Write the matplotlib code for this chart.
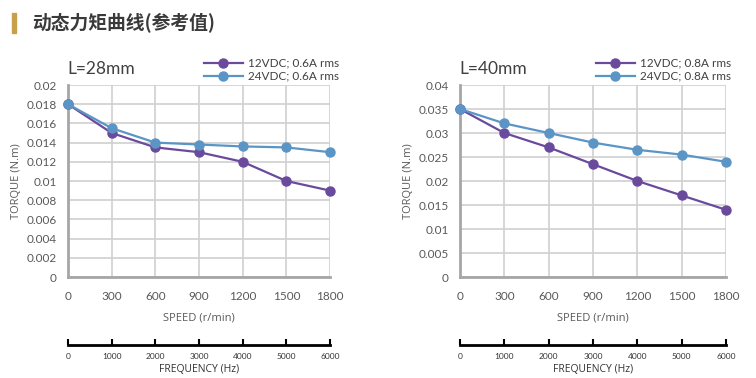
import numpy as np
import matplotlib.pyplot as plt
from matplotlib.patches import Rectangle

# 动态力矩曲线 - two motor lengths
speed = [0, 300, 600, 900, 1200, 1500, 1800]
speed_labels = ['0', '300', '600', '900', '1200', '1500', '1800']
freq = [0, 1000, 2000, 3000, 4000, 5000, 6000]

titles = ['L=28mm', 'L=40mm']
series_names = [['12VDC; 0.6A rms', '24VDC; 0.6A rms'],
                ['12VDC; 0.8A rms', '24VDC; 0.8A rms']]

torque_28_12v = [0.018, 0.015, 0.0135, 0.013, 0.012, 0.010, 0.009]
torque_28_24v = [0.018, 0.0155, 0.014, 0.0138, 0.0136, 0.0135, 0.013]
torque_40_12v = [0.035, 0.030, 0.027, 0.0235, 0.020, 0.017, 0.014]
torque_40_24v = [0.035, 0.032, 0.030, 0.028, 0.0265, 0.0255, 0.024]

y_ticks = [np.arange(0, 0.0201, 0.002), np.arange(0, 0.0401, 0.005)]
y_ticklabels = [['0', '0.002', '0.004', '0.006', '0.008', '0.01', '0.012',
                 '0.014', '0.016', '0.018', '0.02'],
                ['0', '0.005', '0.01', '0.015', '0.02', '0.025', '0.03',
                 '0.035', '0.04']]
y_max = [0.02, 0.04]

data = [(torque_28_12v, torque_28_24v), (torque_40_12v, torque_40_24v)]

purple = '#6A4A9C'
blue = '#5B95C6'
grey_txt = '#595959'

plt.rcParams['font.family'] = ['Lato', 'DejaVu Sans']

W, H = 756, 378
fig = plt.figure(figsize=(W / 100, H / 100), dpi=100)


def fx(px):
    return px / W


def fy(py):
    return 1 - py / H


# title with gold bar
fig.patches.append(Rectangle((fx(12), fy(33)), 4 / W, 20 / H,
                             transform=fig.transFigure, color='#C9A04A'))
fig.text(fx(32), fy(22), '动态力矩曲线(参考值)', fontsize=13.5, fontweight='bold',
         color='#3A3A3A', va='center', ha='left',
         family=['Noto Sans CJK SC', 'DejaVu Sans'])

panels = [(68, 330), (460, 726)]
top, bot = 85, 277

for i, (x0, x1) in enumerate(panels):
    ax = fig.add_axes([fx(x0), fy(bot), (x1 - x0) / W, (bot - top) / H])
    s12, s24 = data[i]
    ax.plot(speed, s12, '-o', color=purple, lw=1.6, ms=6.5,
            label=series_names[i][0], clip_on=False, zorder=3)
    ax.plot(speed, s24, '-o', color=blue, lw=1.6, ms=6.5,
            label=series_names[i][1], clip_on=False, zorder=4)
    ax.set_xlim(0, 1800)
    ax.set_ylim(0, y_max[i])
    ax.set_xticks(speed)
    ax.set_xticklabels(speed_labels)
    ax.set_yticks(y_ticks[i])
    ax.set_yticklabels(y_ticklabels[i])
    ax.grid(True, color='#D0D0D0', lw=1.2)
    ax.set_axisbelow(True)
    for side in ['top', 'right']:
        ax.spines[side].set_visible(False)
    for side in ['left', 'bottom']:
        ax.spines[side].set_color('#A6A6A6')
        ax.spines[side].set_linewidth(2)
    ax.tick_params(length=0, labelsize=8.5, labelcolor=grey_txt)
    ax.tick_params(axis='x', pad=10)
    ax.tick_params(axis='y', pad=8)
    ax.set_xlabel('SPEED (r/min)', fontsize=8, color=grey_txt, labelpad=8,
                  family=['Open Sans', 'DejaVu Sans'])
    ax.set_ylabel('TORQUE (N.m)', fontsize=8, color=grey_txt, labelpad=3,
                  family=['Open Sans', 'DejaVu Sans'])

    fig.text(fx(x0 - 1), fy(69), titles[i], fontsize=12.5, color='#404040',
             va='center', ha='left')
    ax.legend(loc='upper left', bbox_to_anchor=(fx(x0 + 130), fy(52)),
              bbox_transform=fig.transFigure, frameon=False, fontsize=8.5,
              handlelength=3.3, handletextpad=0.4, labelspacing=0.15,
              borderpad=0, labelcolor='#404040')

    # frequency axis
    fa = fig.add_axes([fx(x0), fy(345), (x1 - x0) / W, 0.01])
    fa.set_xlim(0, 6000)
    fa.set_xticks(freq)
    fa.set_xticklabels([str(f) for f in freq])
    fa.set_yticks([])
    fa.patch.set_visible(False)
    for side in ['top', 'right', 'left']:
        fa.spines[side].set_visible(False)
    fa.spines['bottom'].set_linewidth(2)
    fa.spines['bottom'].set_color('#000000')
    fa.tick_params(axis='x', direction='in', length=4, width=1.5,
                   labelsize=6, labelcolor='#333333', pad=6)
    fa.set_xlabel('FREQUENCY (Hz)', fontsize=7.5, color='#333333', labelpad=3,
                  family=['Open Sans', 'DejaVu Sans'])

fig.savefig('out.png', dpi=100)
